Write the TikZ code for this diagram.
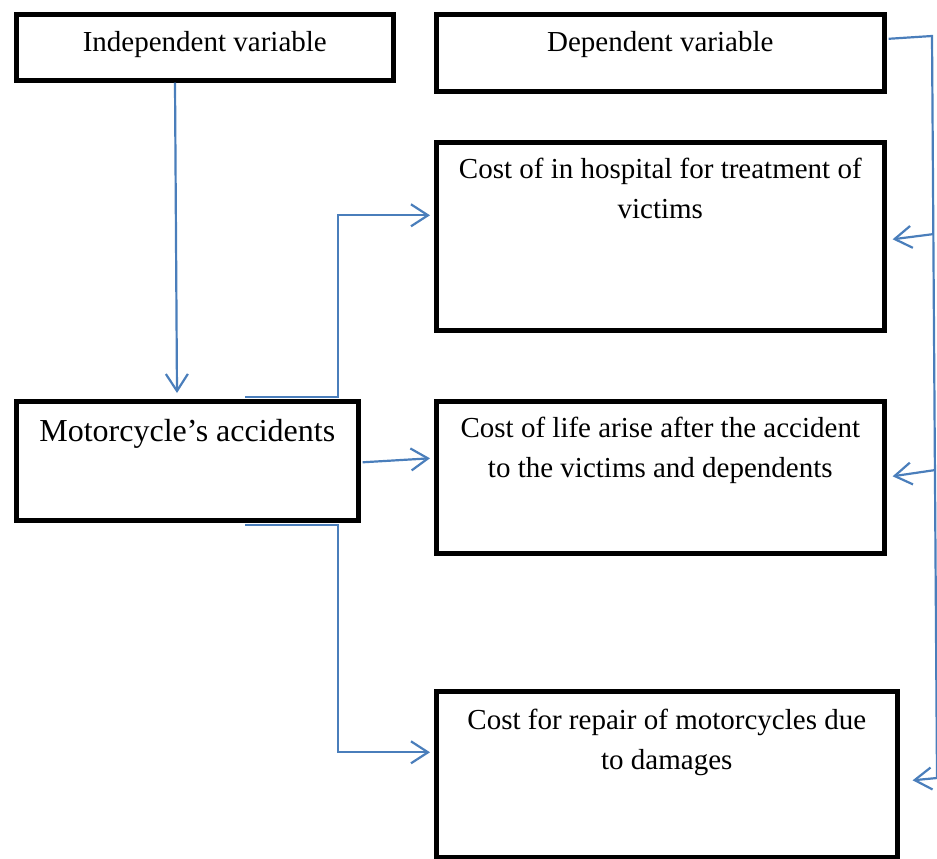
\documentclass[tikz,border=0pt]{standalone}
\usepackage{fontspec}
\setmainfont{Liberation Serif}
\usetikzlibrary{arrows.meta,calc}
\definecolor{linkblue}{HTML}{4A7EBB}
\tikzset{
  box/.style={draw, line width=4.6pt, anchor=north west, inner sep=0pt},
  txt/.style={anchor=north, align=center, inner sep=0pt,
              font=\fontsize{29}{40}\selectfont},
  link/.style={linkblue, line width=2.2pt,
               -{Straight Barb[length=17pt,width=22pt]}}
}

\begin{document}
\begin{tikzpicture}[x=1pt, y=-1pt]
\useasboundingbox (0,0) rectangle (937,859);
\coordinate (rtop) at (932,36);
\coordinate (rbot) at (937,778);
\node[box, minimum width=377pt, minimum height=66pt]  (indep)  at (14,12) {};
\node[box, minimum width=448pt, minimum height=77pt]  (dep)    at (434,12) {};
\node[box, minimum width=448pt, minimum height=188pt] (hosp)   at (434,140) {};
\node[box, minimum width=448pt, minimum height=152pt] (life)   at (434,399) {};
\node[box, minimum width=461pt, minimum height=166pt] (repair) at (434,689) {};
\node[box, minimum width=342pt, minimum height=119pt] (moto)   at (14,399) {};
\node[txt] (indepText)  at ([yshift=-19pt]indep.north) {Independent variable};
\node[txt] (depText)    at ([yshift=-19pt]dep.north) {Dependent variable};
\node[txt] (hospText)   at ([yshift=-18pt]hosp.north)
  {Cost of in hospital for treatment of\\victims};
\node[txt] (lifeText)   at ([yshift=-18pt]life.north)
  {Cost of life arise after the accident\\to the victims and dependents};
\node[txt] (repairText) at ([yshift=-20pt]repair.north)
  {Cost for repair of motorcycles due\\to damages};
\node[txt, font=\fontsize{32}{40}\selectfont] (motoText)
  at ([yshift=-20pt]moto.north) {Motorcycle’s accidents};
\draw[link] ([xshift=161pt]indep.south west) -- ([xshift=163pt,yshift=6pt]moto.north west);
\draw[link] ([xshift=231pt,yshift=2pt]moto.north west) -- ++(93,0)
            |- ([xshift=-4pt,yshift=21pt]hosp.west);
\draw[link] ([xshift=2pt,yshift=-1.5pt]moto.east) -- ([xshift=-4pt,yshift=19pt]life.west);
\draw[link] ([xshift=231pt,yshift=-2pt]moto.south west) -- ++(93,0)
            |- ([xshift=-4pt,yshift=22pt]repair.west);
\draw[linkblue, line width=2.2pt] ([xshift=2pt,yshift=14pt]dep.east) -- (rtop) -- (rbot);
\draw[link] ($(rtop)!0.267!(rbot)$) -- ([xshift=6pt,yshift=-3pt]hosp.east);
\draw[link] ($(rtop)!0.585!(rbot)$) -- ([xshift=6pt,yshift=1pt]life.east);
\draw[link] (rbot) -- ([xshift=13pt,yshift=-6pt]repair.east);
\end{tikzpicture}
\end{document}
